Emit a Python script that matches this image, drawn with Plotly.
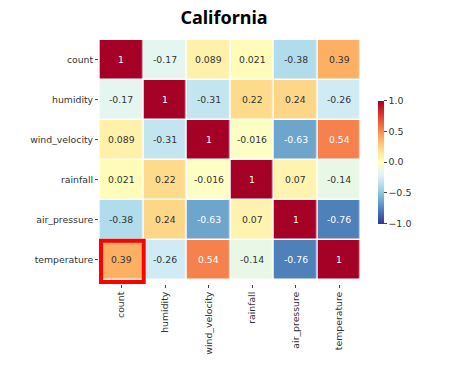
import plotly.graph_objects as go

labels = ["count", "humidity", "wind_velocity", "rainfall", "air_pressure", "temperature"]
corr = [
    [1, -0.17, 0.089, 0.021, -0.38, 0.39],
    [-0.17, 1, -0.31, 0.22, 0.24, -0.26],
    [0.089, -0.31, 1, -0.016, -0.63, 0.54],
    [0.021, 0.22, -0.016, 1, 0.07, -0.14],
    [-0.38, 0.24, -0.63, 0.07, 1, -0.76],
    [0.39, -0.26, 0.54, -0.14, -0.76, 1],
]
cbar_ticks = [-1.0, -0.5, 0.0, 0.5, 1.0]
highlight = ("count", "temperature")  # (x label, y label)
title = "California"

def fmt(v):
    return "1" if v == 1 else ("%g" % v)

FONT = "DejaVu Sans"
TXT = "#333333"

fig = go.Figure()
fig.add_trace(go.Heatmap(
    z=corr, x=labels, y=labels,
    colorscale="RdYlBu", reversescale=True, zmin=-1, zmax=1,
    xgap=1.5, ygap=1.5,
    colorbar=dict(
        x=1.065, xanchor="left", xpad=0, y=0.5, yanchor="middle", ypad=0,
        len=123 / 244, lenmode="fraction", thickness=6,
        outlinewidth=0, tickvals=cbar_ticks,
        ticktext=["\u22121.0", "\u22120.5", "0.0", "0.5", "1.0"],
        ticks="outside", ticklen=3, tickcolor="#444",
        tickfont=dict(family=FONT, size=9.5, color=TXT),
    ),
    hoverongaps=False,
))

annotations = []
for i, row in enumerate(corr):
    for j, v in enumerate(row):
        annotations.append(dict(
            x=labels[j], y=labels[i], xref="x", yref="y",
            text=fmt(v), showarrow=False,
            font=dict(family=FONT, size=9.3,
                      color="white" if abs(v) >= 0.5 else TXT),
        ))

hx = labels.index(highlight[0])
hy = labels.index(highlight[1])
fig.add_shape(type="rect", xref="x", yref="y",
              x0=hx - 0.47, x1=hx + 0.51, y0=hy - 0.475, y1=hy + 0.556,
              line=dict(color="#ff0000", width=4))

fig.update_layout(
    width=456, height=374,
    margin=dict(l=99, r=95, t=40, b=90, autoexpand=False),
    paper_bgcolor="white", plot_bgcolor="white",
    title=dict(text="<b>" + title + "</b>", x=224 / 456, xanchor="center",
               y=1 - 18 / 374, yanchor="middle",
               font=dict(family="Noto Sans", size=18, color="black")),
    annotations=annotations,
    xaxis=dict(tickangle=-90, ticks="outside", ticklen=3, tickcolor="#444",
               showgrid=False, zeroline=False, showline=False, automargin=False,
               tickfont=dict(family=FONT, size=9.3, color=TXT)),
    yaxis=dict(autorange="reversed", ticks="outside", ticklen=3, tickcolor="#444",
               showgrid=False, zeroline=False, showline=False, automargin=False,
               tickfont=dict(family=FONT, size=9.3, color=TXT)),
)

fig.write_html("out.html",
               config={"displayModeBar": False},
               post_script="document.body.style.margin='0';document.body.style.padding='0';")
